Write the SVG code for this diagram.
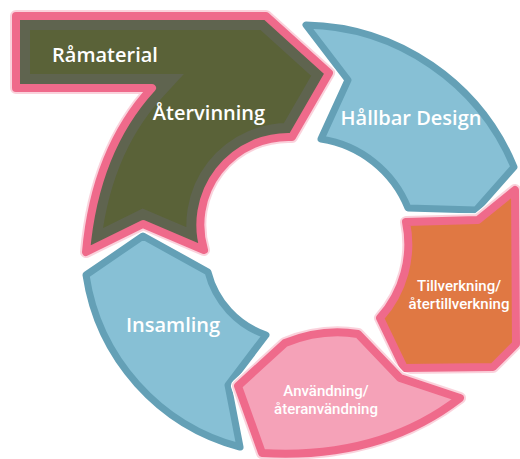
<svg xmlns="http://www.w3.org/2000/svg" xmlns:xlink="http://www.w3.org/1999/xlink" width="520" height="459" viewBox="0 0 520 459">
<style>
.halo{fill:#fff;stroke:#fff;stroke-width:14;stroke-linejoin:round}
.glow{fill:none;stroke:#f06a8c;stroke-opacity:0.3;stroke-width:12;stroke-linejoin:round}
.pk{fill:none;stroke:#ef6a8b;stroke-width:8;stroke-linejoin:round}
.bl{fill:#87c0d5;stroke:#64a0b6;stroke-width:7;stroke-linejoin:round}
.lbl{font-family:"Open Sans","Liberation Sans",sans-serif;font-weight:600;fill:#fff;text-anchor:middle}
.sm{font-family:Roboto,"Liberation Sans",sans-serif;font-weight:500;font-size:15px;fill:#fff;text-anchor:middle}
</style>
<defs>
<path id="p1" d="M16,16 L266,16 L329,73 L292,137 A88,88 0 0 0 204,250 L143,224 L86,252 Q95,150 152,88 L16,88 Z"/>
<clipPath id="c1"><use xlink:href="#p1"/></clipPath>
<path id="p2" d="M306,25 A230,230 0 0 1 514,167 L476,210 L408,208 A112,112 0 0 0 321,139 L348,80 Z"/>
<path id="p3" d="M406,222 L478,220 L515,190 L516,344 L493,367 L404,368 L380,318 A110,110 0 0 0 406,222 Z"/>
<path id="p4" d="M238,386 L285,343 Q322,328 358,334 L400,378 L460,398 Q380,460 262,453 Z"/>
<path id="p5" d="M143,236 L208,272 A90,90 0 0 0 266,335 L228,385 L240,447 A210,210 0 0 1 86,275 Z"/>
</defs>
<g id="node-hallbar-design">
<use xlink:href="#p2" class="halo"/>
<use xlink:href="#p2" class="bl"/>
<text class="lbl" x="411" y="125" font-size="20">Hållbar Design</text>
</g>
<g id="node-insamling">
<use xlink:href="#p5" class="halo"/>
<use xlink:href="#p5" class="bl"/>
<text class="lbl" x="173" y="332" font-size="20">Insamling</text>
</g>
<g id="node-tillverkning">
<use xlink:href="#p3" class="halo"/>
<use xlink:href="#p3" class="glow"/>
<use xlink:href="#p3" fill="#e07843"/>
<use xlink:href="#p3" class="pk"/>
<text class="sm" x="459" y="291">Tillverkning/</text>
<text class="sm" x="459" y="309">återtillverkning</text>
</g>
<g id="node-anvandning">
<use xlink:href="#p4" class="halo"/>
<use xlink:href="#p4" class="glow"/>
<use xlink:href="#p4" fill="#f5a2b8"/>
<use xlink:href="#p4" class="pk"/>
<text class="sm" x="326" y="396">Användning/</text>
<text class="sm" x="326" y="414">återanvändning</text>
</g>
<g id="node-atervinning">
<use xlink:href="#p1" class="halo"/>
<use xlink:href="#p1" class="glow"/>
<use xlink:href="#p1" fill="#5a6238"/>
<use xlink:href="#p1" fill="none" stroke="#5f644f" stroke-width="28" clip-path="url(#c1)"/>
<use xlink:href="#p1" class="pk"/>
<text class="lbl" x="105" y="62" font-size="20">Råmaterial</text>
<text class="lbl" x="209" y="120" font-size="20">Återvinning</text>
</g>
<g id="connectors"/>
</svg>
